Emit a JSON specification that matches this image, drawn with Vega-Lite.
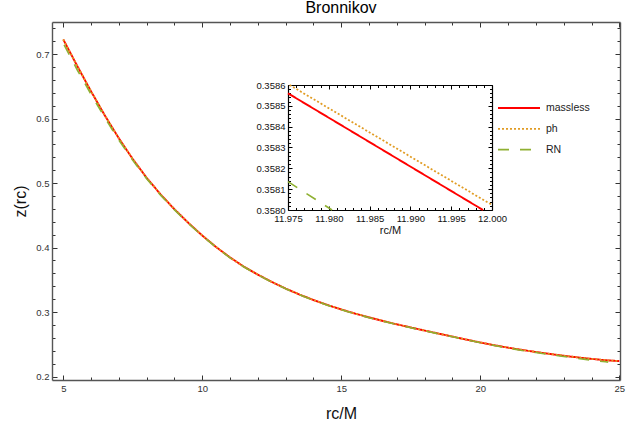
{
  "$schema": "https://vega.github.io/schema/vega-lite/v6.json",
  "width": 568,
  "height": 358,
  "autosize": {"type": "none"},
  "padding": {"left": 52, "top": 22, "right": 8, "bottom": 46},
  "background": "white",
  "title": {"text": "Bronnikov", "fontSize": 16, "font": "Liberation Sans", "fontWeight": "normal", "color": "#000", "frame": "group", "anchor": "middle", "dx": 5, "dy": 13, "offset": 6, "baseline": "alphabetic"},
  "config": {
    "view": {"stroke": null},
    "axis": {"grid": false, "labelFont": "Liberation Sans", "titleFont": "Liberation Sans", "labelFontSize": 9.5, "labelColor": "#333", "titleColor": "#111", "titleFontWeight": "normal", "domainColor": "#555", "tickColor": "#333", "labelFlush": false, "labelOverlap": false},
    "legend": {"labelFont": "Liberation Sans"}
  },
  "datasets": {
    "main": [
      {"r": 5.0, "z": 0.7225, "model": "massless"},
      {"r": 5.5, "z": 0.6816, "model": "massless"},
      {"r": 6.0, "z": 0.6420, "model": "massless"},
      {"r": 6.5, "z": 0.6043, "model": "massless"},
      {"r": 7.0, "z": 0.5692, "model": "massless"},
      {"r": 7.5, "z": 0.5371, "model": "massless"},
      {"r": 8.0, "z": 0.5080, "model": "massless"},
      {"r": 8.5, "z": 0.4824, "model": "massless"},
      {"r": 9.0, "z": 0.4593, "model": "massless"},
      {"r": 9.5, "z": 0.4382, "model": "massless"},
      {"r": 10.0, "z": 0.4186, "model": "massless"},
      {"r": 10.5, "z": 0.4007, "model": "massless"},
      {"r": 11.0, "z": 0.3846, "model": "massless"},
      {"r": 11.5, "z": 0.3702, "model": "massless"},
      {"r": 12.0, "z": 0.3580, "model": "massless"},
      {"r": 12.5, "z": 0.3467, "model": "massless"},
      {"r": 13.0, "z": 0.3364, "model": "massless"},
      {"r": 13.5, "z": 0.3271, "model": "massless"},
      {"r": 14.0, "z": 0.3187, "model": "massless"},
      {"r": 14.5, "z": 0.3110, "model": "massless"},
      {"r": 15.0, "z": 0.3040, "model": "massless"},
      {"r": 15.5, "z": 0.2976, "model": "massless"},
      {"r": 16.0, "z": 0.2917, "model": "massless"},
      {"r": 16.5, "z": 0.2862, "model": "massless"},
      {"r": 17.0, "z": 0.2810, "model": "massless"},
      {"r": 17.5, "z": 0.2761, "model": "massless"},
      {"r": 18.0, "z": 0.2713, "model": "massless"},
      {"r": 18.5, "z": 0.2666, "model": "massless"},
      {"r": 19.0, "z": 0.2620, "model": "massless"},
      {"r": 19.5, "z": 0.2573, "model": "massless"},
      {"r": 20.0, "z": 0.2528, "model": "massless"},
      {"r": 20.5, "z": 0.2486, "model": "massless"},
      {"r": 21.0, "z": 0.2448, "model": "massless"},
      {"r": 21.5, "z": 0.2413, "model": "massless"},
      {"r": 22.0, "z": 0.2381, "model": "massless"},
      {"r": 22.5, "z": 0.2351, "model": "massless"},
      {"r": 23.0, "z": 0.2323, "model": "massless"},
      {"r": 23.5, "z": 0.2297, "model": "massless"},
      {"r": 24.0, "z": 0.2274, "model": "massless"},
      {"r": 24.5, "z": 0.2254, "model": "massless"},
      {"r": 25.0, "z": 0.2240, "model": "massless"},
      {"r": 5.0, "z": 0.72254, "model": "ph"},
      {"r": 5.5, "z": 0.68164, "model": "ph"},
      {"r": 6.0, "z": 0.64204, "model": "ph"},
      {"r": 6.5, "z": 0.60434, "model": "ph"},
      {"r": 7.0, "z": 0.56924, "model": "ph"},
      {"r": 7.5, "z": 0.53714, "model": "ph"},
      {"r": 8.0, "z": 0.50804, "model": "ph"},
      {"r": 8.5, "z": 0.48244, "model": "ph"},
      {"r": 9.0, "z": 0.45934, "model": "ph"},
      {"r": 9.5, "z": 0.43824, "model": "ph"},
      {"r": 10.0, "z": 0.41864, "model": "ph"},
      {"r": 10.5, "z": 0.40074, "model": "ph"},
      {"r": 11.0, "z": 0.38464, "model": "ph"},
      {"r": 11.5, "z": 0.37024, "model": "ph"},
      {"r": 12.0, "z": 0.35804, "model": "ph"},
      {"r": 12.5, "z": 0.34674, "model": "ph"},
      {"r": 13.0, "z": 0.33644, "model": "ph"},
      {"r": 13.5, "z": 0.32714, "model": "ph"},
      {"r": 14.0, "z": 0.31874, "model": "ph"},
      {"r": 14.5, "z": 0.31104, "model": "ph"},
      {"r": 15.0, "z": 0.30404, "model": "ph"},
      {"r": 15.5, "z": 0.29764, "model": "ph"},
      {"r": 16.0, "z": 0.29174, "model": "ph"},
      {"r": 16.5, "z": 0.28624, "model": "ph"},
      {"r": 17.0, "z": 0.28104, "model": "ph"},
      {"r": 17.5, "z": 0.27614, "model": "ph"},
      {"r": 18.0, "z": 0.27134, "model": "ph"},
      {"r": 18.5, "z": 0.26664, "model": "ph"},
      {"r": 19.0, "z": 0.26204, "model": "ph"},
      {"r": 19.5, "z": 0.25734, "model": "ph"},
      {"r": 20.0, "z": 0.25284, "model": "ph"},
      {"r": 20.5, "z": 0.24864, "model": "ph"},
      {"r": 21.0, "z": 0.24484, "model": "ph"},
      {"r": 21.5, "z": 0.24134, "model": "ph"},
      {"r": 22.0, "z": 0.23814, "model": "ph"},
      {"r": 22.5, "z": 0.23514, "model": "ph"},
      {"r": 23.0, "z": 0.23234, "model": "ph"},
      {"r": 23.5, "z": 0.22974, "model": "ph"},
      {"r": 24.0, "z": 0.22744, "model": "ph"},
      {"r": 24.5, "z": 0.22544, "model": "ph"},
      {"r": 25.0, "z": 0.22404, "model": "ph"},
      {"r": 5.03, "z": 0.7140, "model": "RN"},
      {"r": 5.5, "z": 0.6756, "model": "RN"},
      {"r": 6.0, "z": 0.6375, "model": "RN"},
      {"r": 6.5, "z": 0.6008, "model": "RN"},
      {"r": 7.0, "z": 0.5665, "model": "RN"},
      {"r": 7.5, "z": 0.5351, "model": "RN"},
      {"r": 8.0, "z": 0.5065, "model": "RN"},
      {"r": 8.5, "z": 0.4812, "model": "RN"},
      {"r": 9.0, "z": 0.4583, "model": "RN"},
      {"r": 9.5, "z": 0.4374, "model": "RN"},
      {"r": 10.0, "z": 0.4179, "model": "RN"},
      {"r": 10.5, "z": 0.4001, "model": "RN"},
      {"r": 11.0, "z": 0.3841, "model": "RN"},
      {"r": 11.5, "z": 0.3698, "model": "RN"},
      {"r": 12.0, "z": 0.3576, "model": "RN"},
      {"r": 12.5, "z": 0.3463, "model": "RN"},
      {"r": 13.0, "z": 0.3360, "model": "RN"},
      {"r": 13.5, "z": 0.3267, "model": "RN"},
      {"r": 14.0, "z": 0.3183, "model": "RN"},
      {"r": 14.5, "z": 0.3106, "model": "RN"},
      {"r": 15.0, "z": 0.3036, "model": "RN"},
      {"r": 15.5, "z": 0.2972, "model": "RN"},
      {"r": 16.0, "z": 0.2913, "model": "RN"},
      {"r": 16.5, "z": 0.2858, "model": "RN"},
      {"r": 17.0, "z": 0.2806, "model": "RN"},
      {"r": 17.5, "z": 0.2757, "model": "RN"},
      {"r": 18.0, "z": 0.2709, "model": "RN"},
      {"r": 18.5, "z": 0.2662, "model": "RN"},
      {"r": 19.0, "z": 0.2616, "model": "RN"},
      {"r": 19.5, "z": 0.2569, "model": "RN"},
      {"r": 20.0, "z": 0.2524, "model": "RN"},
      {"r": 20.5, "z": 0.2481, "model": "RN"},
      {"r": 21.0, "z": 0.2442, "model": "RN"},
      {"r": 21.5, "z": 0.2405, "model": "RN"},
      {"r": 22.0, "z": 0.2372, "model": "RN"},
      {"r": 22.5, "z": 0.2340, "model": "RN"},
      {"r": 23.0, "z": 0.2310, "model": "RN"},
      {"r": 23.5, "z": 0.2281, "model": "RN"},
      {"r": 24.0, "z": 0.2254, "model": "RN"},
      {"r": 24.5, "z": 0.2229, "model": "RN"},
      {"r": 24.6, "z": 0.2224, "model": "RN"}
    ],
    "inset": [
      {"r": 11.975, "z": 0.35856, "model": "massless"},
      {"r": 11.9989, "z": 0.358, "model": "massless"},
      {"r": 11.9752, "z": 0.3586, "model": "ph"},
      {"r": 12.0, "z": 0.358024, "model": "ph"},
      {"r": 11.975, "z": 0.358136, "model": "RN"},
      {"r": 11.9804, "z": 0.358, "model": "RN"}
    ]
  },
  "layer": [
    {
      "data": {"name": "main"},
      "mark": {"type": "line", "clip": true},
      "encoding": {
        "x": {"field": "r", "type": "quantitative",
          "scale": {"domain": [4.594, 25.025], "nice": false, "zero": false},
          "axis": {"orient": "bottom", "values": [5,6,7,8,9,10,11,12,13,14,15,16,17,18,19,20,21,22,23,24,25],
            "tickSize": {"condition": {"test": "datum.value % 5 === 0", "value": -5}, "value": -3},
            "labelExpr": "datum.value % 5 === 0 ? datum.label : ''",
            "labelPadding": 8, "domainWidth": 1.4,
            "title": "rᴄ/M", "titleFontSize": 16, "titleX": 289, "titleY": 38, "titleBaseline": "alphabetic"}},
        "y": {"field": "z", "type": "quantitative",
          "scale": {"domain": [0.1947, 0.7496], "nice": false, "zero": false},
          "axis": {"orient": "left", "values": [0.2,0.22,0.24,0.26,0.28,0.3,0.32,0.34,0.36,0.38,0.4,0.42,0.44,0.46,0.48,0.5,0.52,0.54,0.56,0.58,0.6,0.62,0.64,0.66,0.68,0.7,0.72,0.74],
            "tickSize": {"condition": {"test": "abs(datum.value*10 - round(datum.value*10)) < 1e-6", "value": -5}, "value": -3},
            "labelExpr": "abs(datum.value*10 - round(datum.value*10)) < 1e-6 ? format(datum.value, '.1f') : ''",
            "labelPadding": 8, "domainWidth": 1.4,
            "title": "z(rᴄ)", "titleFontSize": 16, "titleX": -32, "titleY": 179, "titleAngle": -90, "titleAlign": "center", "titleBaseline": "middle"}},
        "color": {"field": "model", "type": "nominal",
          "scale": {"domain": ["massless", "ph", "RN"], "range": ["#FF0000", "#E19C24", "#8FB032"]},
          "legend": {"title": null, "orient": "none", "legendX": 445, "legendY": 77, "symbolType": "stroke", "symbolSize": 1764, "symbolStrokeWidth": 2, "labelFontSize": 10.5, "labelColor": "#222", "labelOffset": 5, "clipHeight": 18, "rowPadding": 2.8, "padding": 0}},
        "strokeDash": {"field": "model", "type": "nominal",
          "scale": {"domain": ["massless", "ph", "RN"], "range": [[1, 0], [2, 2], [11, 11]]},
          "legend": {"title": null, "orient": "none", "legendX": 445, "legendY": 77, "symbolType": "stroke", "symbolSize": 1764, "symbolStrokeWidth": 2, "labelFontSize": 10.5, "labelColor": "#222", "labelOffset": 5, "clipHeight": 18, "rowPadding": 2.8, "padding": 0}},
        "strokeWidth": {"field": "model", "type": "nominal",
          "scale": {"domain": ["massless", "ph", "RN"], "range": [1.9, 1.6, 2]}, "legend": null}
      }
    },
    {
      "data": {"name": "main"},
      "mark": {"type": "point", "opacity": 0},
      "encoding": {
        "x": {"field": "r", "type": "quantitative",
          "scale": {"domain": [4.594, 25.025], "nice": false, "zero": false},
          "axis": {"orient": "top", "values": [5,6,7,8,9,10,11,12,13,14,15,16,17,18,19,20,21,22,23,24,25],
            "tickSize": {"condition": {"test": "datum.value % 5 === 0", "value": -5}, "value": -3},
            "labels": false, "title": null, "domainWidth": 1.4}},
        "y": {"field": "z", "type": "quantitative",
          "scale": {"domain": [0.1947, 0.7496], "nice": false, "zero": false},
          "axis": {"orient": "right", "values": [0.2,0.22,0.24,0.26,0.28,0.3,0.32,0.34,0.36,0.38,0.4,0.42,0.44,0.46,0.48,0.5,0.52,0.54,0.56,0.58,0.6,0.62,0.64,0.66,0.68,0.7,0.72,0.74],
            "tickSize": {"condition": {"test": "abs(datum.value*10 - round(datum.value*10)) < 1e-6", "value": -5}, "value": -3},
            "labels": false, "title": null, "domainWidth": 1.4}}
      }
    },
    {
      "data": {"name": "inset"},
      "mark": {"type": "line", "clip": true},
      "encoding": {
        "x": {"field": "r", "type": "quantitative",
          "scale": {"domain": [11.975, 12.0], "range": [236, 440], "nice": false, "zero": false},
          "axis": {"orient": "bottom", "offset": -170,
            "values": [11.975,11.976,11.977,11.978,11.979,11.98,11.981,11.982,11.983,11.984,11.985,11.986,11.987,11.988,11.989,11.99,11.991,11.992,11.993,11.994,11.995,11.996,11.997,11.998,11.999,12.0],
            "tickSize": {"condition": {"test": "abs(datum.value*200 - round(datum.value*200)) < 1e-6", "value": -4}, "value": -2.5},
            "format": ".3f",
            "labelExpr": "abs(datum.value*200 - round(datum.value*200)) < 1e-6 ? format(datum.value, '.3f') : ''",
            "labelPadding": 7, "labelColor": "#111", "domainColor": "#000", "tickColor": "#000", "domainWidth": 1.2,
            "title": "rᴄ/M", "titleFontSize": 11, "titleY": 23, "titleBaseline": "alphabetic"}},
        "y": {"field": "z", "type": "quantitative",
          "scale": {"domain": [0.358, 0.3586], "range": [188, 63], "nice": false, "zero": false},
          "axis": {"orient": "left", "offset": -236,
            "values": [0.358,0.35802,0.35804,0.35806,0.35808,0.3581,0.35812,0.35814,0.35816,0.35818,0.3582,0.35822,0.35824,0.35826,0.35828,0.3583,0.35832,0.35834,0.35836,0.35838,0.3584,0.35842,0.35844,0.35846,0.35848,0.3585,0.35852,0.35854,0.35856,0.35858,0.3586],
            "tickSize": {"condition": {"test": "abs(datum.value*10000 - round(datum.value*10000)) < 1e-6", "value": -4}, "value": -2.5},
            "labelExpr": "abs(datum.value*10000 - round(datum.value*10000)) < 1e-6 ? format(datum.value, '.4f') : ''",
            "labelPadding": 7, "labelColor": "#111", "domainColor": "#000", "tickColor": "#000", "domainWidth": 1.2,
            "title": null}},
        "color": {"field": "model", "type": "nominal",
          "scale": {"domain": ["massless", "ph", "RN"], "range": ["#FF0000", "#E19C24", "#8FB032"]}, "legend": null},
        "strokeDash": {"field": "model", "type": "nominal",
          "scale": {"domain": ["massless", "ph", "RN"], "range": [[1, 0], [2, 2], [11, 11]]}, "legend": null},
        "strokeWidth": {"field": "model", "type": "nominal",
          "scale": {"domain": ["massless", "ph", "RN"], "range": [1.9, 1.6, 2]}, "legend": null}
      }
    },
    {
      "data": {"name": "inset"},
      "mark": {"type": "point", "opacity": 0},
      "encoding": {
        "x": {"field": "r", "type": "quantitative",
          "scale": {"domain": [11.975, 12.0], "range": [236, 440], "nice": false, "zero": false},
          "axis": {"orient": "top", "offset": -63,
            "values": [11.975,11.976,11.977,11.978,11.979,11.98,11.981,11.982,11.983,11.984,11.985,11.986,11.987,11.988,11.989,11.99,11.991,11.992,11.993,11.994,11.995,11.996,11.997,11.998,11.999,12.0],
            "tickSize": {"condition": {"test": "abs(datum.value*200 - round(datum.value*200)) < 1e-6", "value": -4}, "value": -2.5},
            "labels": false, "domainColor": "#000", "tickColor": "#000", "domainWidth": 1.2, "title": null}},
        "y": {"field": "z", "type": "quantitative",
          "scale": {"domain": [0.358, 0.3586], "range": [188, 63], "nice": false, "zero": false},
          "axis": {"orient": "right", "offset": -128,
            "values": [0.358,0.35802,0.35804,0.35806,0.35808,0.3581,0.35812,0.35814,0.35816,0.35818,0.3582,0.35822,0.35824,0.35826,0.35828,0.3583,0.35832,0.35834,0.35836,0.35838,0.3584,0.35842,0.35844,0.35846,0.35848,0.3585,0.35852,0.35854,0.35856,0.35858,0.3586],
            "tickSize": {"condition": {"test": "abs(datum.value*10000 - round(datum.value*10000)) < 1e-6", "value": -4}, "value": -2.5},
            "labels": false, "domainColor": "#000", "tickColor": "#000", "domainWidth": 1.2, "title": null}}
      }
    }
  ],
  "resolve": {"scale": {"x": "independent", "y": "independent"}}
}
